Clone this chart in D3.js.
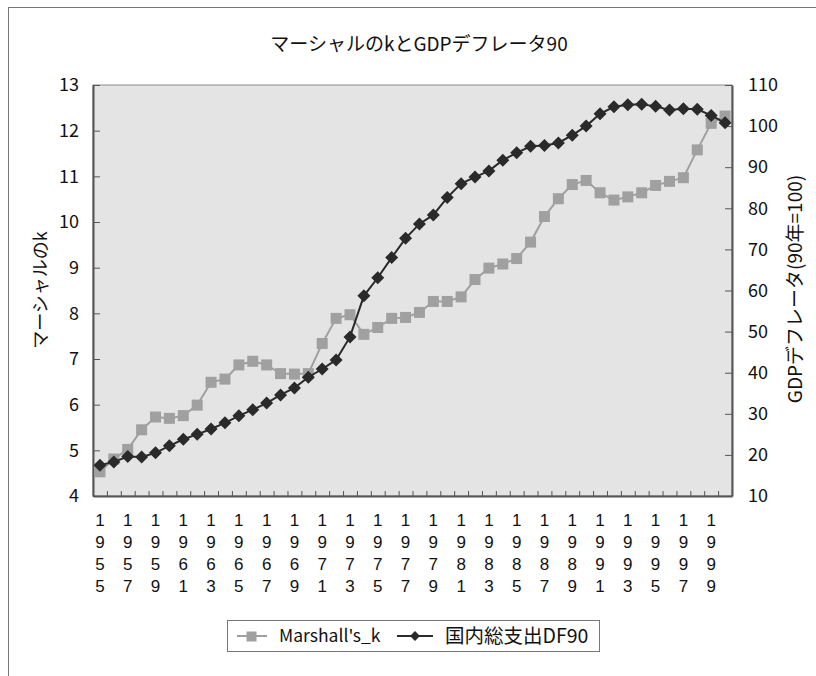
<!DOCTYPE html>
<html>
<head>
<meta charset="utf-8">
<script src="https://cdn.jsdelivr.net/npm/d3@7/dist/d3.min.js"></script>
<style>
  body { margin: 0; background: #fff; }
  svg { display: block; font-family: "Noto Sans CJK JP", "Liberation Sans", sans-serif; }
</style>
</head>
<body>
<svg id="chart" width="816" height="676"></svg>
<script>
// Years 1955–2000
const years = d3.range(1955, 2001);

// マーシャルのk (left axis)
const marshallK = [
  4.53, 4.81, 5.02, 5.45, 5.73, 5.70, 5.76, 5.99, 6.49, 6.56,
  6.87, 6.95, 6.87, 6.68, 6.67, 6.68, 7.34, 7.89, 7.97, 7.54,
  7.69, 7.89, 7.91, 8.02, 8.26, 8.26, 8.36, 8.74, 8.99, 9.08,
  9.20, 9.56, 10.12, 10.51, 10.82, 10.91, 10.64, 10.48, 10.55, 10.64,
  10.80, 10.89, 10.97, 11.58, 12.16, 12.32
];

// 国内総支出デフレータ, 1990 = 100 (right axis)
const gdpDeflator = [
  17.5, 18.3, 19.6, 19.5, 20.5, 22.2, 23.8, 25.0, 26.3, 27.8,
  29.5, 31.0, 32.6, 34.6, 36.3, 38.9, 40.9, 43.1, 48.7, 58.7,
  63.1, 68.0, 72.7, 76.2, 78.4, 82.6, 86.0, 87.6, 89.1, 91.7,
  93.5, 95.1, 95.3, 95.9, 97.8, 100.0, 103.0, 104.7, 105.2, 105.3,
  104.8, 103.9, 104.2, 104.1, 102.6, 100.8
];

const leftTicks = [4, 5, 6, 7, 8, 9, 10, 11, 12, 13];
const rightTicks = [10, 20, 30, 40, 50, 60, 70, 80, 90, 100, 110];
const labelYears = years.filter(y => (y - 1955) % 2 === 0);

const titleText = "マーシャルのkとGDPデフレータ90";
const leftTitle = "マーシャルのk";
const rightTitle = "GDPデフレータ(90年=100)";
const seriesNames = ["Marshall's_k", "国内総支出DF90"];

const FONT = "'Noto Sans CJK JP', sans-serif";
const DIGIT_FONT = "'Liberation Sans', Arial, sans-serif";
const svg = d3.select("#chart");
const plot = { left: 93, right: 732, top: 85, bottom: 496 };

// chart frame
svg.append("rect")
  .attr("x", 8.5).attr("y", 7.5)
  .attr("width", 830).attr("height", 700)
  .attr("fill", "#fff").attr("stroke", "#777").attr("stroke-width", 1);

// plot background
svg.append("rect")
  .attr("x", plot.left).attr("y", plot.top)
  .attr("width", plot.right - plot.left).attr("height", plot.bottom - plot.top)
  .attr("fill", "#e4e4e4").attr("stroke", "#8a8a8a").attr("stroke-width", 1);

const x = d3.scaleBand().domain(years).range([plot.left, plot.right]).padding(0);
const yL = d3.scaleLinear().domain([4, 13]).range([plot.bottom, plot.top]);
const yR = d3.scaleLinear().domain([10, 110]).range([plot.bottom, plot.top]);
const cx = d => x(d) + x.bandwidth() / 2;

// left axis
const gL = svg.append("g").attr("transform", `translate(${plot.left},0)`)
  .call(d3.axisLeft(yL).tickValues(leftTicks).tickSizeInner(-7).tickSizeOuter(0).tickPadding(14));
// right axis
const gR = svg.append("g").attr("transform", `translate(${plot.right},0)`)
  .call(d3.axisRight(yR).tickValues(rightTicks).tickSizeInner(-7).tickSizeOuter(0).tickPadding(16));
// bottom axis: ticks between categories
const gB = svg.append("g").attr("transform", `translate(0,${plot.bottom})`)
  .call(d3.axisBottom(d3.scaleLinear().domain([0, years.length]).range([plot.left, plot.right]))
    .tickValues(d3.range(1, years.length)).tickSizeInner(-5).tickSizeOuter(0).tickFormat(""));

[gL, gR, gB].forEach(g => {
  g.select(".domain").attr("stroke", "#555").attr("stroke-width", 2);
  g.selectAll(".tick line").attr("stroke", "#555").attr("stroke-width", 1);
  g.selectAll(".tick text").attr("fill", "#111").style("font-size", "18px")
    .style("font-family", FONT);
});

// year labels, digits stacked vertically
const yl = svg.append("g").attr("fill", "#111")
  .style("font-size", "17px").style("font-family", DIGIT_FONT);
labelYears.forEach(yr => {
  String(yr).split("").forEach((dg, i) => {
    yl.append("text").attr("text-anchor", "middle")
      .attr("x", cx(yr)).attr("y", 526 + i * 22).text(dg);
  });
});

// lines
const lineK = d3.line().x((d, i) => cx(years[i])).y(d => yL(d));
const lineD = d3.line().x((d, i) => cx(years[i])).y(d => yR(d));

svg.append("path").datum(marshallK).attr("d", lineK)
  .attr("fill", "none").attr("stroke", "#a0a0a0").attr("stroke-width", 2);
svg.append("g").selectAll("rect").data(marshallK).join("rect")
  .attr("x", (d, i) => cx(years[i]) - 5.5).attr("y", d => yL(d) - 5.5)
  .attr("width", 11).attr("height", 11).attr("fill", "#a0a0a0");

svg.append("path").datum(gdpDeflator).attr("d", lineD)
  .attr("fill", "none").attr("stroke", "#2a2a2a").attr("stroke-width", 2);
const diamond = "M0,-6.5L6.5,0L0,6.5L-6.5,0Z";
svg.append("g").selectAll("path").data(gdpDeflator).join("path")
  .attr("d", diamond)
  .attr("transform", (d, i) => `translate(${cx(years[i])},${yR(d)})`)
  .attr("fill", "#2a2a2a");

// title
svg.append("text").attr("x", 419).attr("y", 51).attr("text-anchor", "middle")
  .style("font-size", "19px").style("font-family", FONT)
  .attr("fill", "#111").text(titleText);

// axis titles
svg.append("text").attr("transform", "translate(47,290) rotate(-90)")
  .attr("text-anchor", "middle").style("font-size", "18px")
  .style("font-family", FONT).attr("fill", "#111").text(leftTitle);
svg.append("text").attr("transform", "translate(802,289) rotate(-90)")
  .attr("text-anchor", "middle").style("font-size", "19px")
  .style("font-family", FONT).attr("fill", "#111").text(rightTitle);

// legend
const lg = svg.append("g");
lg.append("rect").attr("x", 227.5).attr("y", 620.5).attr("width", 372).attr("height", 31)
  .attr("fill", "#fff").attr("stroke", "#777");
lg.append("line").attr("x1", 237).attr("x2", 267).attr("y1", 636).attr("y2", 636)
  .attr("stroke", "#a0a0a0").attr("stroke-width", 2);
lg.append("rect").attr("x", 246.5).attr("y", 631.5).attr("width", 10).attr("height", 10).attr("fill", "#a0a0a0");
lg.append("text").attr("x", 279).attr("y", 642).style("font-size", "17.5px")
  .style("font-family", FONT).attr("fill", "#111").text(seriesNames[0]);
lg.append("line").attr("x1", 397).attr("x2", 433).attr("y1", 636).attr("y2", 636)
  .attr("stroke", "#2a2a2a").attr("stroke-width", 2);
lg.append("path").attr("d", "M0,-5L5,0L0,5L-5,0Z").attr("transform", "translate(415,636)").attr("fill", "#2a2a2a");
lg.append("text").attr("x", 445).attr("y", 643).style("font-size", "19.5px")
  .style("font-family", FONT).attr("fill", "#111").text(seriesNames[1]);
</script>
</body>
</html>
